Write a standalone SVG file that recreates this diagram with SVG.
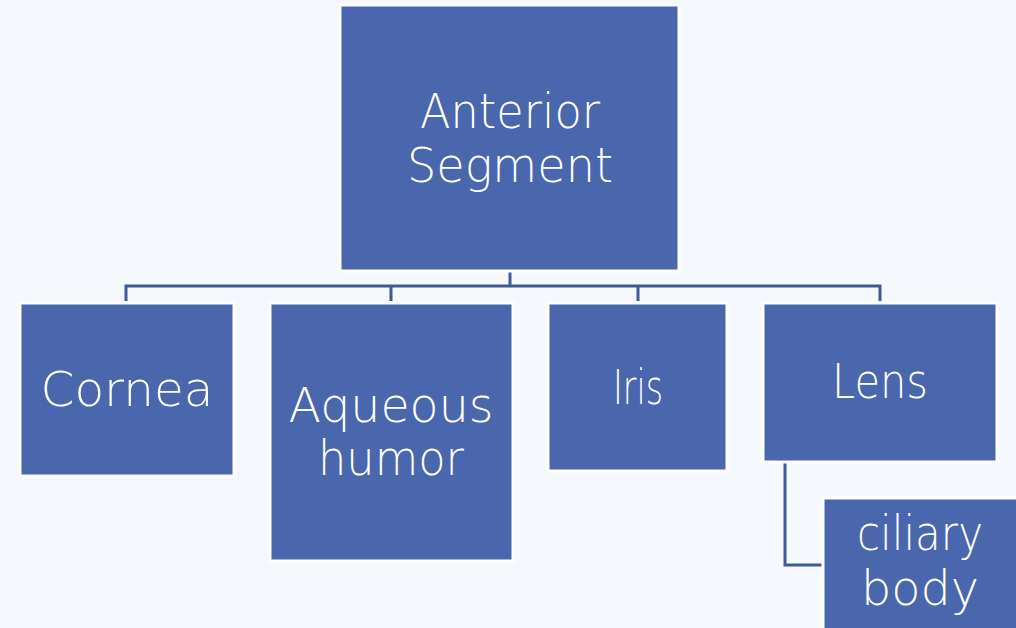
<svg xmlns="http://www.w3.org/2000/svg" width="1016" height="628" viewBox="0 0 1016 628">
<style>
.box{fill:#4A66AC;stroke:#FFFFFF;stroke-width:3}
.lbl{fill:#FFFFFF;font-family:"DejaVu Sans","Liberation Sans",sans-serif;font-weight:200;font-size:48px;text-anchor:middle}
.conn{fill:none;stroke:#3E5A97;stroke-width:3}
</style>
<rect width="1016" height="628" fill="#F5F9FE"/>
<g id="connectors">
<path class="conn" d="M510 272 V286 M126 301 V286 H880 V301 M391 286 V301 M638 286 V301"/>
<path class="conn" d="M785 462 V565 H823"/>
</g>
<g id="anterior">
<rect class="box" x="340" y="5" width="339" height="266"/>
<text class="lbl" x="510" y="128" textLength="180" lengthAdjust="spacingAndGlyphs">Anterior</text>
<text class="lbl" x="510" y="182" textLength="206" lengthAdjust="spacingAndGlyphs">Segment</text>
</g>
<g id="cornea">
<rect class="box" x="20" y="303" width="214" height="173"/>
<text class="lbl" x="127" y="406" textLength="173" lengthAdjust="spacingAndGlyphs">Cornea</text>
</g>
<g id="aqueous">
<rect class="box" x="270" y="303" width="243" height="258"/>
<text class="lbl" x="391" y="422" textLength="205" lengthAdjust="spacingAndGlyphs">Aqueous</text>
<text class="lbl" x="391" y="475" textLength="146" lengthAdjust="spacingAndGlyphs">humor</text>
</g>
<g id="iris">
<rect class="box" x="548" y="303" width="179" height="168"/>
<text class="lbl" x="638" y="404" textLength="50" lengthAdjust="spacingAndGlyphs">Iris</text>
</g>
<g id="lens">
<rect class="box" x="763" y="303" width="234" height="159"/>
<text class="lbl" x="880" y="398" textLength="96" lengthAdjust="spacingAndGlyphs">Lens</text>
</g>
<g id="ciliary">
<rect class="box" x="823" y="498" width="234" height="170"/>
<text class="lbl" x="920" y="550" textLength="126" lengthAdjust="spacingAndGlyphs">ciliary</text>
<text class="lbl" x="920" y="605" textLength="118" lengthAdjust="spacingAndGlyphs">body</text>
</g>
</svg>
